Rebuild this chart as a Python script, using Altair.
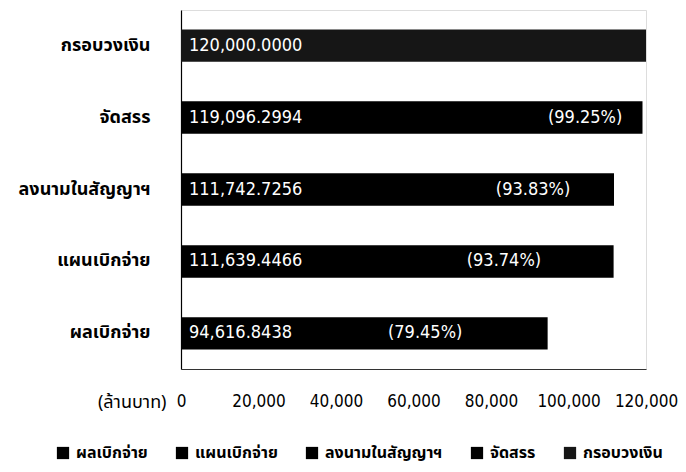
import altair as alt
import pandas as pd

# ---- data ----
categories = ["กรอบวงเงิน", "จัดสรร", "ลงนามในสัญญาฯ", "แผนเบิกจ่าย", "ผลเบิกจ่าย"]
values = [120000.0000, 119096.2994, 111742.7256, 111639.4466, 94616.8438]
value_labels = ["120,000.0000", "119,096.2994", "111,742.7256", "111,639.4466", "94,616.8438"]
pct_labels = ["", "(99.25%)", "(93.83%)", "(93.74%)", "(79.45%)"]
legend_order = ["ผลเบิกจ่าย", "แผนเบิกจ่าย", "ลงนามในสัญญาฯ", "จัดสรร", "กรอบวงเงิน"]
x_ticks = [0, 20000, 40000, 60000, 80000, 100000, 120000]

# ---- style ----
pct_inset = {"กรอบวงเงิน": 0, "จัดสรร": 14800, "ลงนามในสัญญาฯ": 20900,
             "แผนเบิกจ่าย": 28300, "ผลเบิกจ่าย": 31600}
THAI = "Tahoma, 'Noto Sans Thai', 'Leelawadee UI', sans-serif"
NUM = "'DejaVu Sans Condensed', 'DejaVu Sans', sans-serif"

df = pd.DataFrame({
    "cat": categories,
    "value": values,
    "vlabel": value_labels,
    "plabel": pct_labels,
})
df["pct_x"] = [v - pct_inset[c] for c, v in zip(categories, values)]

y_enc = alt.Y("cat:N", sort=categories,
              scale=alt.Scale(paddingInner=0.55, paddingOuter=0.27),
              axis=alt.Axis(title=None, labelFont=THAI, labelFontSize=18,
                            labelFontWeight="bold", labelColor="#000",
                            labelPadding=31, ticks=False, domainColor="#000",
                            domainWidth=1.2, grid=False))

x_scale = alt.Scale(domain=[0, 120000], nice=False, zero=True)

bars = alt.Chart(df).mark_bar(stroke=None).encode(
    x=alt.X("value:Q", scale=x_scale,
            axis=alt.Axis(values=x_ticks, format=",.0f", labelFont=NUM,
                          labelFontSize=17, labelColor="#000", ticks=False,
                          grid=False, domainColor="#333", labelPadding=24,
                          labelFlush=False,
                          title="(ล้านบาท)", titleFont=THAI, titleFontSize=18,
                          titleFontWeight="normal", titleColor="#000",
                          titleAlign="right", titleBaseline="middle",
                          titleX=-15, titleY=33, titleAnchor="start")),
    y=y_enc,
    color=alt.Color("cat:N",
                    scale=alt.Scale(domain=legend_order,
                                    range=["#000000", "#000000", "#000000", "#000000", "#161616"]),
                    legend=alt.Legend(title=None, orient="none", direction="horizontal",
                                      legendX=-126, legendY=435, columns=5,
                                      symbolType="square", symbolSize=150,
                                      symbolStrokeWidth=0, labelFont=THAI,
                                      labelFontSize=16, labelFontWeight="bold",
                                      labelColor="#000", columnPadding=26,
                                      labelOffset=5, labelLimit=300)),
)

vtext = alt.Chart(df).mark_text(align="left", baseline="middle", dx=8,
                                color="white", font=NUM, fontSize=18).encode(
    x=alt.value(0),
    y=alt.Y("cat:N", sort=categories),
    text="vlabel:N",
)

ptext = alt.Chart(df).mark_text(align="center", baseline="middle",
                                color="white", font=NUM, fontSize=18).encode(
    x=alt.X("pct_x:Q", scale=x_scale),
    y=alt.Y("cat:N", sort=categories),
    text="plabel:N",
)

chart = alt.layer(bars, vtext, ptext).properties(
    width=465, height=359,
    autosize=alt.AutoSizeParams(type="none"),
    padding={"left": 173, "top": 2, "right": 32, "bottom": 100},
).configure_view(stroke=None).configure(background="white")

chart.save("out.html", embed_options={"renderer": "svg", "actions": False})
